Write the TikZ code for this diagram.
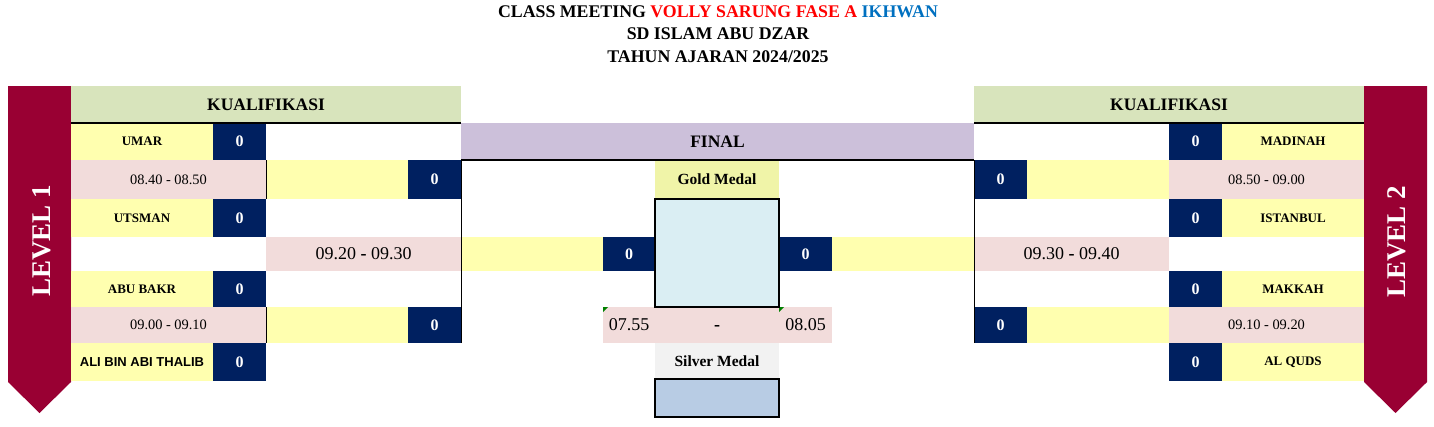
\documentclass[tikz,border=0pt]{standalone}
\usepackage{fontspec}
\setmainfont{Liberation Serif}
\newfontfamily\arialfont{Liberation Sans}

\definecolor{bannerred}{HTML}{990033}
\definecolor{qualgreen}{HTML}{D8E4BC}
\definecolor{teamyellow}{HTML}{FFFFAF}
\definecolor{scorenavy}{HTML}{002060}
\definecolor{timepink}{HTML}{F2DCDB}
\definecolor{finalpurple}{HTML}{CCC0DA}
\definecolor{goldyellow}{HTML}{F0F4A8}
\definecolor{goldblue}{HTML}{DAEEF3}
\definecolor{silvergrey}{HTML}{F2F2F2}
\definecolor{silverblue}{HTML}{B8CCE4}
\definecolor{volleyred}{HTML}{FF0000}
\definecolor{ikhwanblue}{HTML}{0070C0}
\definecolor{flaggreen}{HTML}{008000}

\tikzset{
  cell/.style={anchor=north west, inner sep=0pt, outer sep=0pt},
  namecol/.style={minimum width=142pt},
  scorecol/.style={minimum width=53pt},
  slotcol/.style={minimum width=195pt},
  team/.style={cell, namecol, fill=teamyellow, font=\fontsize{13}{15}\selectfont\bfseries},
  winner/.style={cell, namecol, fill=teamyellow},
  score/.style={cell, scorecol, fill=scorenavy, text=white, font=\fontsize{16}{18}\selectfont\bfseries},
  slot/.style={cell, slotcol, fill=timepink, font=\fontsize{14.4}{16}\selectfont},
  bigslot/.style={cell, fill=timepink, font=\fontsize{18}{20}\selectfont},
  header/.style={cell, minimum height=37pt, font=\fontsize{17.5}{20}\selectfont\bfseries},
  medal/.style={cell, minimum width=124pt, font=\fontsize{15.5}{18}\selectfont\bfseries},
  trophy/.style={cell, minimum width=124pt, draw=black, line width=1.6pt},
  boldrule/.style={line width=1.6pt},
  thinrule/.style={line width=0.8pt},
  banner/.style={fill=bannerred},
  leveltext/.style={text=white, rotate=90, font=\fontsize{27}{30}\selectfont\bfseries},
  titletext/.style={anchor=base, font=\fontsize{17.8}{21}\selectfont\bfseries},
  flag/.style={fill=flaggreen},
}

\begin{document}
\begin{tikzpicture}[x=1pt, y=-1pt]
  \useasboundingbox (0,0) rectangle (1434,426);

  % Title
  \node[titletext] (title1) at (718,17) {CLASS MEETING \textcolor{volleyred}{VOLLY SARUNG FASE A} \textcolor{ikhwanblue}{IKHWAN}};
  \node[titletext] (title2) at (718,39.5) {SD ISLAM ABU DZAR};
  \node[titletext] (title3) at (718,62) {TAHUN AJARAN 2024/2025};

  % Level banners
  \fill[banner] (8,86) -- (71,86) -- (71,382) -- (39.5,413) -- (8,382) -- cycle;
  \fill[banner] (1364,86) -- (1427,86) -- (1427,382) -- (1395.5,413) -- (1364,382) -- cycle;
  \node[leveltext] (level1) at (41.5,241) {LEVEL 1};
  \node[leveltext] (level2) at (1397,242) {LEVEL 2};

  % Headers
  \node[header, minimum width=390pt, fill=qualgreen] (qualL) at (71,86) {KUALIFIKASI};
  \node[header, minimum width=390pt, fill=qualgreen] (qualR) at (974,86) {KUALIFIKASI};
  \node[header, minimum width=513pt, fill=finalpurple] (final) at (461,123) {FINAL};

  % Left teams
  \foreach \id/\team/\ya/\h in {umar/UMAR/123/37, utsman/UTSMAN/199/38, abubakr/ABU BAKR/271/36} {
    \node[team, minimum height=\h pt] (\id) at (71,\ya) {\team};
    \node[score, minimum height=\h pt] (\id-sc) at (213,\ya) {0};
  }
  \node[team, minimum height=38pt, font=\arialfont\fontsize{13}{15}\selectfont\bfseries] (ali) at (71,343) {ALI BIN ABI THALIB};
  \node[score, minimum height=38pt] (ali-sc) at (213,343) {0};

  % Right teams
  \foreach \id/\team/\ya/\h in {madinah/MADINAH/123/37, istanbul/ISTANBUL/199/38, makkah/MAKKAH/271/36, alquds/AL QUDS/343/38} {
    \node[score, minimum height=\h pt] (\id-sc) at (1169,\ya) {0};
    \node[team, minimum height=\h pt] (\id) at (1222,\ya) {\team};
  }

  % Left semifinals
  \node[slot, minimum height=39pt] (slotA) at (71,160) {08.40 - 08.50};
  \node[winner, minimum height=39pt] (semiA) at (266,160) {};
  \node[score, minimum height=39pt] (semiA-sc) at (408,160) {0};
  \node[slot, minimum height=36pt] (slotB) at (71,307) {09.00 - 09.10};
  \node[winner, minimum height=36pt] (semiB) at (266,307) {};
  \node[score, minimum height=36pt] (semiB-sc) at (408,307) {0};
  \node[bigslot, slotcol, minimum height=34pt] (slotL) at (266,237) {09.20 \textbf{-} 09.30};

  % Right semifinals
  \node[score, minimum height=39pt] (semiC-sc) at (974,160) {0};
  \node[winner, minimum height=39pt] (semiC) at (1027,160) {};
  \node[slot, minimum height=39pt] (slotC) at (1169,160) {08.50 - 09.00};
  \node[score, minimum height=36pt] (semiD-sc) at (974,307) {0};
  \node[winner, minimum height=36pt] (semiD) at (1027,307) {};
  \node[slot, minimum height=36pt] (slotD) at (1169,307) {09.10 - 09.20};
  \node[bigslot, slotcol, minimum height=34pt] (slotR) at (974,237) {09.30 \textbf{-} 09.40};

  % Final
  \node[winner, minimum height=34pt] (finalL) at (461,237) {};
  \node[score, minimum width=52pt, minimum height=34pt] (finalL-sc) at (603,237) {0};
  \node[score, minimum height=34pt] (finalR-sc) at (779,237) {0};
  \node[winner, minimum height=34pt] (finalR) at (832,237) {};
  \node[bigslot, minimum width=52pt, minimum height=36pt] (kickoff) at (603,307) {07.55};
  \node[bigslot, minimum width=124pt, minimum height=36pt] (sep) at (655,307) {\vphantom{0}\textbf{-}};
  \node[bigslot, minimum width=53pt, minimum height=36pt] (whistle) at (779,307) {08.05};
  \fill[flag] (kickoff.north west) -- ++(5,0) -- ++(-5,5) -- cycle;
  \fill[flag] (whistle.north west) -- ++(5,0) -- ++(-5,5) -- cycle;
  \node[medal, minimum height=39pt, fill=goldyellow] (gold) at (655,160) {Gold Medal};
  \node[trophy, minimum height=108pt, fill=goldblue] (goldbox) at (655,199) {};
  \node[medal, minimum height=36pt, fill=silvergrey] (silver) at (655,343) {Silver Medal};
  \node[trophy, minimum height=38pt, fill=silverblue] (silverbox) at (655,379) {};

  % Rules
  \draw[boldrule] (qualL.south west) -- (qualL.south east);
  \draw[boldrule] (qualR.south west) -- (qualR.south east);
  \draw[boldrule] (final.south west) -- (final.south east);
  \draw[thinrule] (slotA.north east) -- (slotA.south east);
  \draw[thinrule] (slotB.north east) -- (slotB.south east);
  \draw[thinrule] (semiA-sc.north east) -- (semiB-sc.south east);
  \draw[thinrule] (semiC-sc.north west) -- (semiD-sc.south west);
\end{tikzpicture}
\end{document}
